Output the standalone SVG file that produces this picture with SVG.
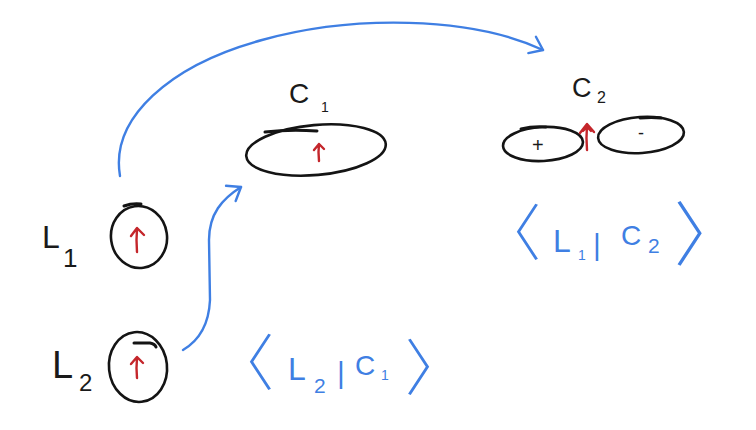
<svg xmlns="http://www.w3.org/2000/svg" width="756" height="430" viewBox="0 0 756 430">
<style>
.ink{fill:none;stroke:#141414;stroke-width:2.6;stroke-linecap:round;stroke-linejoin:round}
.mark{fill:none;stroke:#141414;stroke-width:3;stroke-linecap:round}
.spin{fill:none;stroke:#c4262b;stroke-width:2.4;stroke-linecap:round;stroke-linejoin:round}
.conn{fill:none;stroke:#3f7fe3;stroke-width:2.4;stroke-linecap:round;stroke-linejoin:round}
.lbl{font-family:"Liberation Sans","DejaVu Sans",sans-serif;fill:#1a1a1a}
.blu{font-family:"Liberation Sans","DejaVu Sans",sans-serif;fill:#3f7fe3}
.br{font-family:"Noto Sans CJK SC","Noto Sans CJK JP",sans-serif;font-weight:300;fill:#3f7fe3}
</style>
<defs>
<marker id="head" markerUnits="userSpaceOnUse" markerWidth="30" markerHeight="30" refX="0" refY="0" viewBox="-15 -15 30 30" orient="auto" overflow="visible">
<path d="M-12,-9 L0,0 L-12,9" fill="none" stroke="#3f7fe3" stroke-width="2.4" stroke-linecap="round" stroke-linejoin="round"/>
</marker>
</defs>
<rect width="756" height="430" fill="#ffffff"/>

<g id="connectors">
<path class="conn" d="M120,176 C110,118 170,65 262,40 C352,15 470,16 543,50" marker-end="url(#head)"/>
<path class="conn" d="M183,350 C200,340 209,322 210,300 L209,240 C209,214 222,199 241,187" marker-end="url(#head)"/>
</g>

<g id="L1">
<ellipse class="ink" cx="139" cy="237" rx="28" ry="31" transform="rotate(-8 139 237)"/>
<path class="mark" d="M124,206 Q132,203 141,204"/>
<path class="spin" d="M137,252 Q136,240 137,229 M131,236 L137,228 L144,235"/>
<text class="lbl" x="42" y="248" font-size="32">L</text>
<text class="lbl" x="63" y="267" font-size="26">1</text>
</g>

<g id="L2">
<ellipse class="ink" cx="138" cy="367" rx="29" ry="35" transform="rotate(-6 138 367)"/>
<path class="mark" d="M134,343 L150,343 Q155,344 156,347"/>
<path class="spin" d="M137,378 Q136,368 137,358 M131,364 L137,357 L143,363"/>
<text class="lbl" x="52" y="378" font-size="38">L</text>
<text class="lbl" x="79" y="391" font-size="24">2</text>
</g>

<g id="C1">
<ellipse class="ink" cx="316" cy="150" rx="70" ry="25" transform="rotate(-5 316 150)"/>
<path class="mark" d="M265,132 Q290,129 317,131"/>
<path class="spin" d="M319,161 Q318,152 319,144 M314,150 L319,144 L324,149"/>
<text class="lbl" x="289" y="103" font-size="28">C</text>
<text class="lbl" x="321" y="112" font-size="14">1</text>
</g>

<g id="C2">
<ellipse class="ink" cx="543" cy="144" rx="40" ry="17" transform="rotate(-3 543 144)"/>
<ellipse class="ink" cx="641" cy="135" rx="43" ry="18" transform="rotate(-4 641 135)"/>
<path class="mark" d="M521,129 Q533,126 546,127"/>
<path class="mark" d="M640,118 Q652,117 661,118"/>
<path class="spin" d="M587,150 Q586,138 587,125 M580,133 L587,124 L594,132 M583,131 L587,127 L591,131"/>
<text class="lbl" x="532" y="152" font-size="20">+</text>
<text class="lbl" x="638" y="139" font-size="18">-</text>
<text class="lbl" x="572" y="97" font-size="27">C</text>
<text class="lbl" x="597" y="103" font-size="16">2</text>
</g>

<g id="braket-L2-C1">
<text class="br" x="213" y="385" font-size="61">〈</text>
<text class="blu" x="288" y="380" font-size="32">L</text>
<text class="blu" x="314" y="393" font-size="21">2</text>
<text class="blu" x="337" y="383" font-size="30">|</text>
<text class="blu" x="355" y="375" font-size="28">C</text>
<text class="blu" x="381" y="380" font-size="14">1</text>
<text class="br" x="405" y="390" font-size="61">〉</text>
</g>

<g id="braket-L1-C2">
<text class="br" x="480" y="255" font-size="61">〈</text>
<text class="blu" x="553" y="252" font-size="32">L</text>
<text class="blu" x="578" y="260" font-size="14">1</text>
<text class="blu" x="593" y="255" font-size="30">|</text>
<text class="blu" x="621" y="245" font-size="28">C</text>
<text class="blu" x="648" y="253" font-size="21">2</text>
<text class="br" x="674" y="260" font-size="70">〉</text>
</g>
</svg>
